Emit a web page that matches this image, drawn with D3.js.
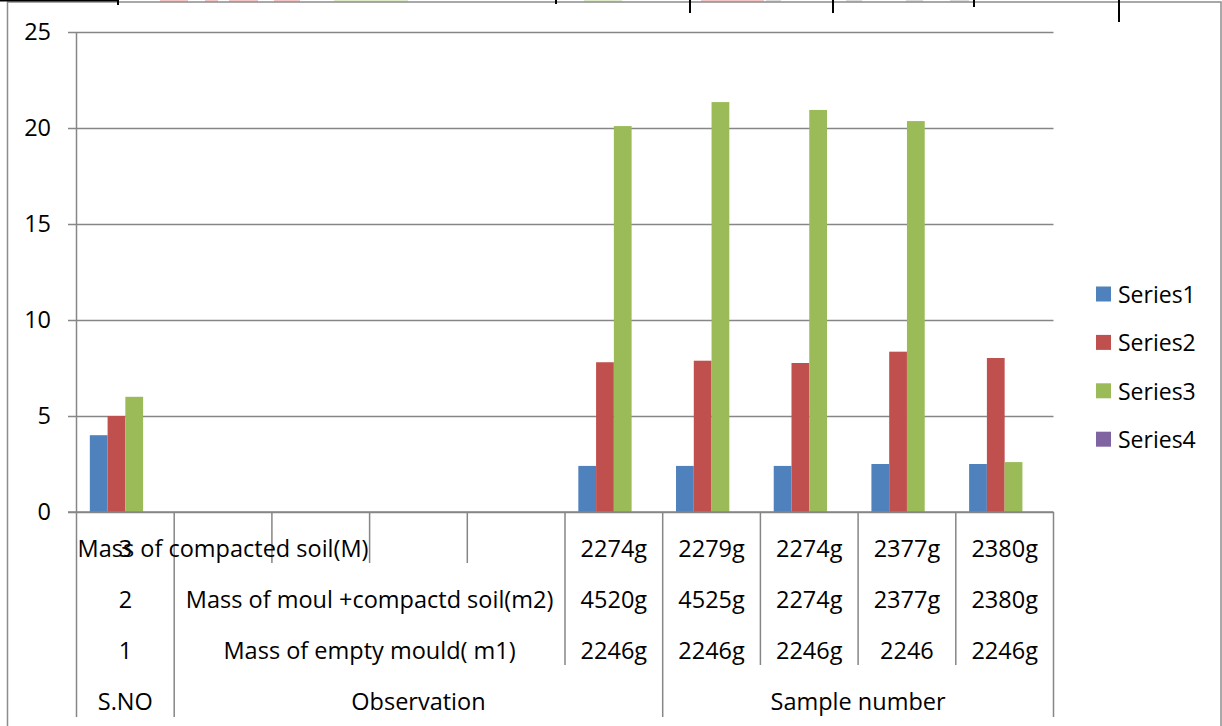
<!DOCTYPE html>
<html>
<head>
<meta charset="utf-8">
<script src="https://cdn.jsdelivr.net/npm/d3@7"></script>
<style>
  html, body { margin: 0; padding: 0; background: #fff; }
  svg { display: block; }
  text { font-family: "Open Sans", Lato, "Noto Sans", sans-serif; fill: #000; }
</style>
</head>
<body>
<svg id="chart" width="1222" height="726"></svg>
<script>
// ---------- data ----------
const seriesNames = ["Series1", "Series2", "Series3", "Series4"];
const seriesColors = ["#4F81BD", "#C0504D", "#9BBB59", "#8064A2"];
const categoryIndex = [0, 1, 2, 3, 4, 5, 6, 7, 8, 9];
const series1 = [4, 0, 0, 0, 0, 2.4, 2.4, 2.4, 2.5, 2.5];
const series2 = [5, 0, 0, 0, 0, 7.8, 7.88, 7.76, 8.35, 8.02];
const series3 = [6, 0, 0, 0, 0, 20.1, 21.35, 20.94, 20.36, 2.6];
const series4 = [0, 0, 0, 0, 0, 0, 0, 0, 0, 0];
const yTicks = [0, 5, 10, 15, 20, 25];

// multi-level category labels (innermost first)
const level1Labels = ["3", "Mass of compacted soil(M)", "", "", "", "2274g", "2279g", "2274g", "2377g", "2380g"];
const level1Spans  = [1, 1, 1, 1, 1, 1, 1, 1, 1, 1];
const level2Labels = ["2", "Mass of moul +compactd soil(m2)", "4520g", "4525g", "2274g", "2377g", "2380g"];
const level2Spans  = [1, 4, 1, 1, 1, 1, 1];
const level3Labels = ["1", "Mass of empty mould( m1)", "2246g", "2246g", "2246g", "2246", "2246g"];
const level3Spans  = [1, 4, 1, 1, 1, 1, 1];
const level4Labels = ["S.NO", "Observation", "Sample number"];
const level4Spans  = [1, 5, 4];

// ---------- layout ----------
const svg = d3.select("#chart");
const plotLeft = 76.5, plotRight = 1053.5, plotTop = 32, plotBottom = 512;
const gridColor = "#868686";
const fontSize = 23.5;

svg.append("rect").attr("width", 1222).attr("height", 726).attr("fill", "#fff");

// faint artefacts and frame at top of the image
const topSmudges = [[160,188,"#f4c7c6"],[205,218,"#f4c7c6"],[229,258,"#f4c7c6"],[274,300,"#f4c7c6"],
  [334,408,"#dfeccb"],[584,622,"#dfeccb"],[701,764,"#f4c7c6"],[766,781,"#dddddd"],[846,862,"#dddddd"],
  [906,923,"#dddddd"],[950,969,"#dddddd"]];
svg.selectAll("rect.smudge").data(topSmudges).join("rect").attr("class","smudge")
  .attr("x", d => d[0]).attr("y", 0).attr("width", d => d[1]-d[0]).attr("height", 2).attr("fill", d => d[2]);

svg.append("rect").attr("x", 7.5).attr("y", 2).attr("width", 1213.5).attr("height", 740)
  .attr("fill", "none").attr("stroke", "#8c8c8c").attr("stroke-width", 1.5);
svg.append("line").attr("x1", 0).attr("x2", 118).attr("y1", 0.8).attr("y2", 0.8)
  .attr("stroke", "#000").attr("stroke-width", 1.5);
const topTicks = [[118,5],[556,4],[690,13],[833,13],[974,7],[1119,22]];
svg.selectAll("line.ttick").data(topTicks).join("line").attr("class","ttick")
  .attr("x1", d => d[0]).attr("x2", d => d[0]).attr("y1", 0).attr("y2", d => d[1])
  .attr("stroke", "#000").attr("stroke-width", 2);

// ---------- scales ----------
const x = d3.scaleBand().domain(categoryIndex).range([plotLeft, plotRight]).paddingInner(0).paddingOuter(0);
const xs = d3.scaleBand().domain(seriesNames).range([0, x.bandwidth()]).paddingInner(0).paddingOuter(0.75);
const y = d3.scaleLinear().domain([0, 25]).range([plotBottom, plotTop]);

// ---------- gridlines + y axis ----------
const yAxis = d3.axisLeft(y).tickValues(yTicks).tickSizeInner(plotRight - 68).tickSizeOuter(0).tickPadding(17);
const gy = svg.append("g").attr("transform", `translate(${plotRight},0)`).call(yAxis);
gy.select(".domain").remove();
gy.selectAll(".tick line").attr("stroke", gridColor).attr("stroke-width", 1.5);
gy.selectAll(".tick text").attr("font-size", fontSize).attr("fill", "#000")
  .style("font-family", "'Open Sans', Lato, sans-serif");

svg.append("line").attr("x1", plotLeft).attr("x2", plotLeft).attr("y1", plotTop).attr("y2", plotBottom)
  .attr("stroke", gridColor).attr("stroke-width", 1.5);

// ---------- bars ----------
const allSeries = [series1, series2, series3, series4];
seriesNames.forEach((name, si) => {
  svg.append("g").selectAll("rect")
    .data(allSeries[si].map((v, i) => ({ i, v })).filter(d => d.v > 0))
    .join("rect")
    .attr("x", d => x(d.i) + xs(name))
    .attr("y", d => y(d.v))
    .attr("width", xs.bandwidth())
    .attr("height", d => y(0) - y(d.v))
    .attr("fill", seriesColors[si]);
});

// ---------- category table ----------
const rowTop    = [512, 563, 614, 665];
const rowBottom = [563, 614, 665, 717];
const rowText   = [548, 599, 650, 701];
const levels = [
  [level1Labels, level1Spans],
  [level2Labels, level2Spans],
  [level3Labels, level3Spans],
  [level4Labels, level4Spans]
];
const table = svg.append("g");
levels.forEach(([labels, spans], r) => {
  let start = 0;
  const groups = labels.map((lab, k) => {
    const g = { lab, s: start, e: start + spans[k] };
    start += spans[k];
    return g;
  });
  const bounds = [plotLeft].concat(groups.map(g => g.e === 10 ? plotRight : x(g.e)));
  table.selectAll(null).data(bounds).join("line")
    .attr("x1", d => d).attr("x2", d => d)
    .attr("y1", rowTop[r]).attr("y2", rowBottom[r])
    .attr("stroke", gridColor).attr("stroke-width", 1.5);
  table.selectAll(null).data(groups.filter(g => g.lab !== "")).join("text")
    .attr("x", g => (x(g.s) + (g.e === 10 ? plotRight : x(g.e))) / 2)
    .attr("y", rowText[r])
    .attr("text-anchor", "middle")
    .attr("dominant-baseline", "central")
    .attr("font-size", fontSize)
    .text(g => g.lab);
});

// x axis baseline drawn on top of bars
svg.append("line").attr("x1", 68).attr("x2", plotRight).attr("y1", plotBottom).attr("y2", plotBottom)
  .attr("stroke", gridColor).attr("stroke-width", 1.5);

// ---------- legend ----------
const legend = svg.append("g");
seriesNames.forEach((name, i) => {
  const cy = 294 + i * 48.4;
  legend.append("rect").attr("x", 1096).attr("y", cy - 7.5).attr("width", 15).attr("height", 15)
    .attr("fill", seriesColors[i]);
  legend.append("text").attr("x", 1118).attr("y", cy).attr("dominant-baseline", "central")
    .attr("font-size", 23).text(name);
});
</script>
</body>
</html>
